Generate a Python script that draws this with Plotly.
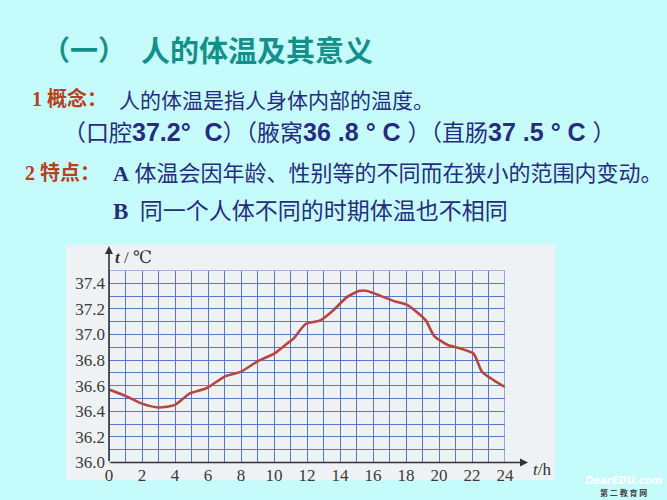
import plotly.graph_objects as go

W, H = 667, 500

# ---- data ----
hours = [0, 1, 2, 3, 4, 4.9, 5.9, 7, 8, 9, 10, 10.8, 11.2, 11.9, 12.8, 13.6, 14.4, 15.15, 15.65,
         16.5, 17.3, 18.1, 18.7, 19.2, 19.7, 20.5, 21.3, 22.1, 22.6, 23.35, 24]
temps = [36.57, 36.52, 36.46, 36.43, 36.45, 36.54, 36.58, 36.67, 36.71, 36.79, 36.85, 36.93, 36.97,
         37.08, 37.11, 37.19, 37.29, 37.34, 37.34, 37.30, 37.26, 37.23, 37.17, 37.11, 36.99, 36.92,
         36.89, 36.85, 36.71, 36.64, 36.59]
x_ticks = [0, 2, 4, 6, 8, 10, 12, 14, 16, 18, 20, 22, 24]
y_ticks = [36.0, 36.2, 36.4, 36.6, 36.8, 37.0, 37.2, 37.4]
y_tick_labels = ["36.0", "36.2", "36.4", "36.6", "36.8", "37.0", "37.2", "37.4"]

title_text = "（一）"
title_text2 = "人的体温及其意义"
line1_head = "1 概念："
line1_body = "人的体温是指人身体内部的温度。"
NUM = "<span style='font-size:25px'><b>%s</b></span>"
line2 = ("（口腔" + NUM % "37.2°  C" + "）（腋窝" + NUM % "36 .8 ° C " + "）（直肠"
         + NUM % "37 .5 ° C " + "）")
line3_head = "2 特点："
line3_body = "体温会因年龄、性别等的不同而在狭小的范围内变动。"
line4 = "同一个人体不同的时期体温也不相同"

# ---- pixel geometry ----
px0, px1 = 109, 505      # x=0, x=24
py0, py1 = 462.5, 270.5  # y=36.0, y=37.5


def fx(p):
    return p / W


def fy(p):
    return 1 - p / H


BG = "#c6fbfc"
NAVY = "#262c7e"
RED = "#b8401c"
TEAL = "#14908a"
GRIDC = "#5579c8"
CJK = "Noto Sans CJK SC"
SERIF = "Liberation Serif, Times New Roman, DejaVu Serif, serif"
SERIF_CJK = "Liberation Serif, Noto Sans CJK SC"
SANS_CJK = "Liberation Sans, Noto Sans CJK SC"

fig = go.Figure()
fig.add_trace(go.Scatter(
    x=hours, y=temps, mode="lines",
    line=dict(color="#b8463f", width=2.6, shape="spline", smoothing=0.6),
    hoverinfo="skip", showlegend=False,
))

fig.update_layout(
    width=W, height=H, autosize=False,
    margin=dict(l=0, r=0, t=0, b=0, pad=0, autoexpand=False),
    paper_bgcolor=BG, plot_bgcolor="#c6d8f1",
    showlegend=False,
    xaxis=dict(
        domain=[fx(px0), fx(px1)], range=[0, 24],
        tickmode="array", tickvals=x_ticks, ticktext=[str(v) for v in x_ticks],
        showgrid=True, gridcolor=GRIDC, gridwidth=1.2,
        minor=dict(dtick=1, tick0=0, showgrid=True, gridcolor=GRIDC, gridwidth=1.2),
        zeroline=False, showline=False, ticks="",
        tickfont=dict(family=SERIF, size=17, color="#3a3a3a"), ticklabelstandoff=0,
        fixedrange=True,
    ),
    yaxis=dict(
        domain=[fy(py0), fy(py1)], range=[36.0, 37.5],
        tickmode="array", tickvals=y_ticks, ticktext=y_tick_labels,
        showgrid=True, gridcolor=GRIDC, gridwidth=1.2,
        minor=dict(dtick=0.1, tick0=36.0, showgrid=True, gridcolor=GRIDC, gridwidth=1.2),
        zeroline=False, showline=False, ticks="",
        tickfont=dict(family=SERIF, size=17, color="#3a3a3a"), ticklabelstandoff=3,
        fixedrange=True,
    ),
)

shapes = []
shapes.append(dict(type="rect", xref="paper", yref="paper", layer="below",
                   x0=fx(66), x1=fx(555), y0=fy(480), y1=fy(245),
                   fillcolor="#eef2f5", line=dict(width=0)))
shapes.append(dict(type="rect", xref="x", yref="y", x0=0, x1=24, y0=36.0, y1=37.5,
                   line=dict(color=GRIDC, width=1.2), layer="above"))
fig.update_layout(shapes=shapes)

ann = []
ann.append(dict(xref="paper", yref="paper", x=fx(px0), y=fy(246), ax=0, ay=py0 - 246,
                axref="pixel", ayref="pixel", showarrow=True, arrowhead=2, arrowsize=1,
                arrowwidth=1.6, arrowcolor="#333", text=""))
ann.append(dict(xref="paper", yref="paper", x=fx(528), y=fy(py0), ax=-(528 - px0), ay=0,
                axref="pixel", ayref="pixel", showarrow=True, arrowhead=2, arrowsize=1,
                arrowwidth=1.6, arrowcolor="#333", text=""))
ann.append(dict(xref="paper", yref="paper", x=fx(113), y=fy(257), xanchor="left", yanchor="middle",
                text="<b><i>t</i></b> / ℃", showarrow=False,
                font=dict(family=SERIF, size=17, color="#333")))
ann.append(dict(xref="paper", yref="paper", x=fx(531), y=fy(469), xanchor="left", yanchor="middle",
                text="<i>t</i>/h", showarrow=False,
                font=dict(family=SERIF, size=17, color="#333")))

dx, dy = -2, -1


def txt(x, y, text, family, size, color):
    ann.append(dict(xref="paper", yref="paper", x=fx(x + dx), y=fy(y + dy),
                    xanchor="left", yanchor="middle", text=text, showarrow=False,
                    font=dict(family=family, size=size, color=color)))


txt(42, 50, "<b>" + title_text + "</b>", CJK, 28, TEAL)
txt(141, 50, "<b>" + title_text2 + "</b>", CJK, 29, TEAL)
txt(32, 100, "<b>" + line1_head + "</b>", SERIF_CJK, 20, RED)
txt(119, 100, line1_body, CJK, 21, NAVY)
txt(63, 133, line2, SANS_CJK, 23, NAVY)
txt(25, 174, "<b>" + line3_head + "</b>", SERIF_CJK, 20, RED)
txt(113, 174, "<b>A</b> " + line3_body, SERIF_CJK, 22, NAVY)
txt(113, 213, "<b>B</b>  " + line4, SERIF_CJK, 23, NAVY)

ann.append(dict(xref="paper", yref="paper", x=fx(623), y=fy(480), xanchor="center", yanchor="middle",
                text="<b><i>DearEDU.com</i></b>", showarrow=False,
                font=dict(family="DejaVu Sans", size=10, color="#ffffff")))
ann.append(dict(xref="paper", yref="paper", x=fx(623), y=fy(492), xanchor="center", yanchor="middle",
                text="<b>第 二 教 育 网</b>", showarrow=False,
                font=dict(family=CJK, size=8, color="#444")))

fig.update_layout(annotations=ann)

fig.write_html(
    "out.html",
    config={"displayModeBar": False},
    post_script="document.documentElement.style.margin='0';document.body.style.margin='0';"
                "document.body.style.overflow='hidden';document.body.style.background='" + BG + "';",
)
